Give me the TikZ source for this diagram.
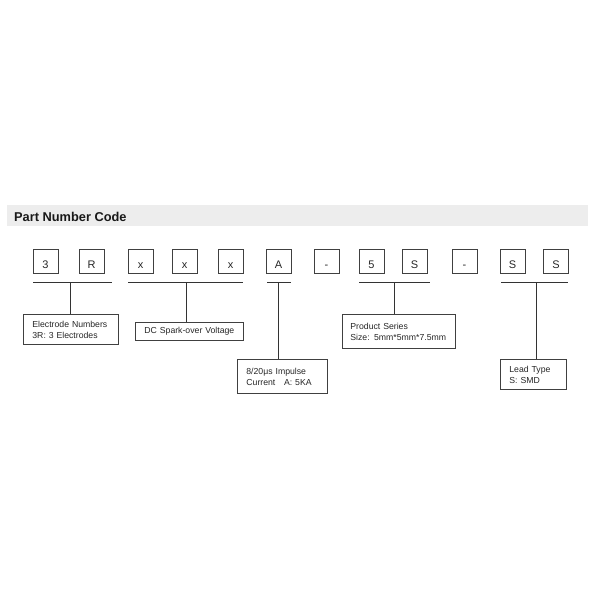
\documentclass[tikz,border=0pt]{standalone}
\usepackage{fontspec}
\setmainfont{Liberation Sans}
\begin{document}
\begin{tikzpicture}[x=1pt,y=-1pt,
  codebox/.style={draw=black!75, line width=0.8pt, minimum width=25pt, minimum height=24pt, inner sep=0pt, text height=14pt, text depth=0pt, font=\fontsize{11}{13}\selectfont, text=black!85},
  desc/.style={draw=black!75, line width=0.8pt, anchor=north west, align=left, inner ysep=0pt, font=\fontsize{8.7}{11}\selectfont, text=black!85},
  bracket/.style={line width=0.9pt, draw=black!80}]
\useasboundingbox (0,0) rectangle (600,600);
\node[fill=black!7, minimum width=581pt, minimum height=21pt, inner sep=0pt, anchor=north west] (band) at (7,205) {};
\node[anchor=base west, font=\fontsize{12.8}{15}\selectfont\bfseries, text=black!90, inner sep=0pt] (title) at (14,221) {Part Number Code};
% code boxes
\node[codebox] (c1) at (45.5,261) {3};
\node[codebox] (c2) at (91.5,261) {R};
\node[codebox] (c3) at (140.5,261) {x};
\node[codebox] (c4) at (184.5,261) {x};
\node[codebox] (c5) at (230.5,261) {x};
\node[codebox] (c6) at (278.5,261) {A};
\node[codebox] (c7) at (326.5,261) {-};
\node[codebox] (c8) at (371.5,261) {5};
\node[codebox] (c9) at (414.5,261) {S};
\node[codebox] (c10) at (464.5,261) {-};
\node[codebox] (c11) at (512.5,261) {S};
\node[codebox] (c12) at (556,261) {S};
% description boxes
\node[desc, minimum width=95pt, minimum height=30pt, inner xsep=9pt, text width=77pt] (elec) at (23,314) {Electrode Numbers\\3R: 3 Electrodes};
\node[desc, minimum width=108pt, minimum height=18pt, inner xsep=9pt, text width=90pt] (dc) at (135,322) {DC Spark-over Voltage};
\node[desc, minimum width=90pt, minimum height=34pt, inner xsep=9pt, text width=72pt] (imp) at (237,359) {8/20μs Impulse\\Current\ \ \ A: 5KA};
\node[desc, minimum width=113pt, minimum height=34pt, inner xsep=8pt, text width=97pt] (prod) at (342,314) {Product Series\\Size: 5mm*5mm*7.5mm};
\node[desc, minimum width=66pt, minimum height=30pt, inner xsep=9pt, text width=48pt] (lead) at (500,359) {Lead Type\\S: SMD};
% brackets
\coordinate (l1a) at (33,282); \coordinate (l1b) at (112,282); \coordinate (t1) at (70,282);
\coordinate (l2a) at (128,282); \coordinate (l2b) at (243,282); \coordinate (t2) at (186,282);
\coordinate (l3a) at (267,282); \coordinate (l3b) at (291,282); \coordinate (t3) at (278,282);
\coordinate (l4a) at (359,282); \coordinate (l4b) at (430,282); \coordinate (t4) at (394,282);
\coordinate (l5a) at (501,282); \coordinate (l5b) at (568,282); \coordinate (t5) at (536,282);
\draw[bracket] (l1a) -- (l1b); \draw[bracket] (t1) -- (t1 |- elec.north);
\draw[bracket] (l2a) -- (l2b); \draw[bracket] (t2) -- (t2 |- dc.north);
\draw[bracket] (l3a) -- (l3b); \draw[bracket] (t3) -- (t3 |- imp.north);
\draw[bracket] (l4a) -- (l4b); \draw[bracket] (t4) -- (t4 |- prod.north);
\draw[bracket] (l5a) -- (l5b); \draw[bracket] (t5) -- (t5 |- lead.north);
\end{tikzpicture}
\end{document}
